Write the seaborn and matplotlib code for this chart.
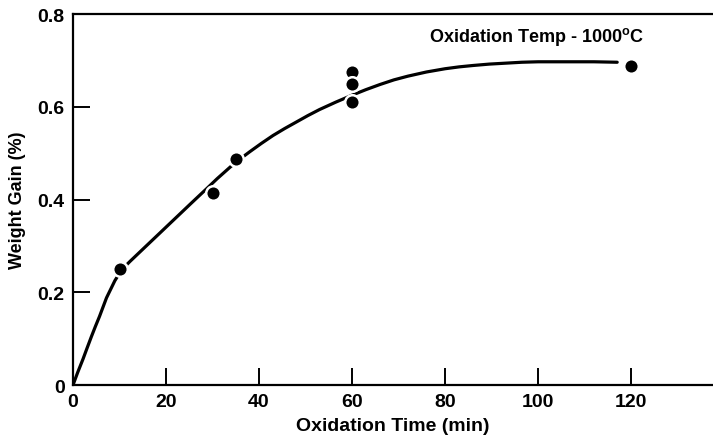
import matplotlib
matplotlib.use("Agg")
import matplotlib.pyplot as plt
import seaborn as sns
import pandas as pd

# measured points
time_min = [10, 30, 35, 60, 60, 60, 120]
gain_pct = [0.25, 0.415, 0.488, 0.675, 0.650, 0.610, 0.688]

# hand-drawn fit curve
curve_time = [0, 1.0, 2.15, 3.0, 3.94, 4.8, 5.7, 7.2, 9.0, 10, 11, 12.3,
              14.5, 16.6, 18.7, 20.9, 23, 25.2, 27, 28.7, 31, 33.8, 36, 38,
              40.5, 43, 45.5, 48, 50.5, 53, 56.5, 60, 63, 66, 69, 72, 76, 80,
              83, 86, 89.5, 93, 96.5, 100, 104, 108, 112, 117]
curve_gain = [0, 0.027, 0.056, 0.079, 0.104, 0.126, 0.148, 0.188, 0.225,
              0.241, 0.254, 0.267, 0.288, 0.308, 0.328, 0.349, 0.369, 0.390,
              0.407, 0.423, 0.445, 0.470, 0.488, 0.503, 0.521, 0.538, 0.553,
              0.567, 0.581, 0.594, 0.610, 0.625, 0.637, 0.648, 0.658, 0.666,
              0.675, 0.682, 0.686, 0.689, 0.692, 0.694, 0.696, 0.697, 0.697,
              0.697, 0.697, 0.696]

x_ticks = [0, 20, 40, 60, 80, 100, 120]
y_ticks = [0, 0.2, 0.4, 0.6, 0.8]
y_ticklabels = ["0", "0.2", "0.4", "0.6", "0.8"]

points_df = pd.DataFrame({"time": time_min, "gain": gain_pct})
curve_df = pd.DataFrame({"time": curve_time, "gain": curve_gain})

sns.set_style("ticks")
plt.rcParams["font.family"] = ["Liberation Sans", "DejaVu Sans"]
plt.rcParams["font.weight"] = "bold"
plt.rcParams["mathtext.default"] = "regular"
plt.rcParams["text.color"] = "black"
plt.rcParams["axes.labelcolor"] = "black"
plt.rcParams["xtick.color"] = "black"
plt.rcParams["ytick.color"] = "black"
plt.rcParams["axes.edgecolor"] = "black"

fig = plt.figure(figsize=(7.13, 4.39), dpi=100)
ax = fig.add_axes([0.1024, 0.1207, 0.8976, 0.8451])

sns.lineplot(data=curve_df, x="time", y="gain", color="black", linewidth=2.3,
             sort=False, ax=ax)
sns.scatterplot(data=points_df, x="time", y="gain", color="black", s=110,
                edgecolor="white", linewidth=1.8, zorder=3, ax=ax)

ax.set_xlim(0, 137.6)
ax.set_ylim(0, 0.8)
ax.set_xticks(x_ticks)
ax.set_yticks(y_ticks)
ax.set_yticklabels(y_ticklabels)
ax.tick_params(direction="in", length=12, width=1.4, labelsize=14, pad=6)
for lab in ax.get_xticklabels() + ax.get_yticklabels():
    lab.set_fontweight("bold")

ax.spines["right"].set_visible(False)
for side in ["left", "bottom", "top"]:
    ax.spines[side].set_linewidth(1.6)

ax.set_xlabel("Oxidation Time (min)", fontsize=14, fontweight="bold", labelpad=5)
ax.set_ylabel("Weight Gain (%)", fontsize=13, fontweight="bold", labelpad=8)

ax.text(76.5, 0.753, "Oxidation Temp - 1000$^{o}$C", fontsize=13,
        fontweight="bold", va="center", ha="left")

fig.savefig("out.png", dpi=100)
